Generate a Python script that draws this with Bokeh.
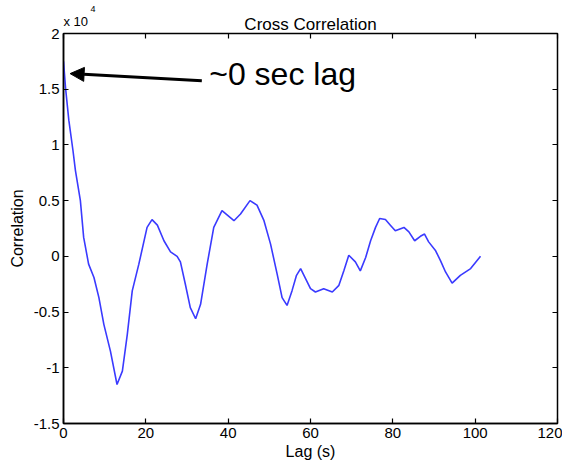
from bokeh.plotting import figure
from bokeh.models import (Range1d, FixedTicker, LinearAxis, Arrow, NormalHead, Label,
                          CustomJSTickFormatter, Title)
from bokeh.embed import file_html
from bokeh.resources import INLINE

# Data (correlation in units of 1e4)
lag_s = [0, 0.5, 1.3, 2.3, 2.9, 4.1, 4.9, 6.1, 7.4, 8.6, 9.8, 11.4, 13.0, 14.3, 15.5,
         16.7, 18.3, 20.3, 21.5, 22.8, 24.4, 26.0, 27.6, 28.4, 29.6, 30.8, 32.1, 33.3,
         34.9, 36.5, 38.5, 41.4, 43.0, 45.3, 47.0, 48.7, 50.3, 51.9, 53.1, 54.3, 55.5,
         56.6, 57.6, 58.8, 60.0, 61.2, 63.2, 65.3, 66.9, 68.1, 69.3, 70.9, 72.1, 73.4,
         74.6, 75.8, 76.8, 78.2, 79.4, 80.6, 82.7, 83.9, 85.3, 86.7, 87.7, 88.7, 90.4,
         91.6, 92.8, 94.4, 96.4, 98.9, 101.3]
correlation_e4 = [1.75, 1.51, 1.22, 0.95, 0.77, 0.50, 0.17, -0.07, -0.19, -0.37, -0.61,
                  -0.85, -1.15, -1.03, -0.70, -0.31, -0.07, 0.26, 0.33, 0.28, 0.14, 0.04,
                  0.0, -0.05, -0.25, -0.46, -0.56, -0.43, -0.07, 0.26, 0.41, 0.32, 0.38,
                  0.50, 0.46, 0.32, 0.11, -0.16, -0.37, -0.44, -0.31, -0.17, -0.11, -0.20,
                  -0.29, -0.32, -0.29, -0.32, -0.26, -0.13, 0.01, -0.05, -0.13, -0.01,
                  0.14, 0.26, 0.34, 0.33, 0.28, 0.23, 0.26, 0.22, 0.14, 0.18, 0.20, 0.13,
                  0.05, -0.04, -0.14, -0.24, -0.17, -0.11, 0.0]

x_ticks = [0, 20, 40, 60, 80, 100, 120]
x_tick_labels = ["0", "20", "40", "60", "80", "100", "120"]
y_ticks = [-1.5, -1, -0.5, 0, 0.5, 1, 1.5, 2]
y_tick_labels = ["-1.5", "-1", "-0.5", "0", "0.5", "1", "1.5", "2"]
y_multiplier_base = "x 10"
y_multiplier_exp = "4"

# annotation (arrow from text to lag ~0)
arrow_tail = (33.6, 1.575)
arrow_tip = (1.6, 1.64)
note_pos = (35.4, 1.476)

FONT = "Liberation Sans"

p = figure(frame_width=494, frame_height=390, output_backend="svg", toolbar_location=None,
           x_range=Range1d(0, 120), y_range=Range1d(-1.5, 2),
           min_border_left=63, min_border_right=5, min_border_top=33,
           min_border_bottom=38, background_fill_color="white",
           border_fill_color="white")

p.outline_line_color = "black"
p.outline_line_width = 1.5
p.outline_line_alpha = 1
p.grid.visible = False

p.line(lag_s, correlation_e4, line_color="#3a3aff", line_width=1.6)

def style_axis(ax, ticks, labels, show_labels=True):
    ax.ticker = FixedTicker(ticks=ticks)
    ax.major_tick_in = 5
    ax.major_tick_out = 0
    ax.minor_tick_line_color = None
    ax.major_tick_line_color = "black"
    ax.major_tick_line_width = 1.2
    ax.axis_line_color = "black"
    ax.axis_line_width = 1.5
    ax.major_label_text_font = FONT
    ax.major_label_text_color = "black"
    if show_labels:
        ax.major_label_overrides = {t: l for t, l in zip(ticks, labels)}
        ax.major_label_text_font_size = "15px"
        ax.major_label_standoff = 4
    else:
        ax.formatter = CustomJSTickFormatter(code="return ''")
        ax.major_label_text_font_size = "1px"
        ax.major_label_standoff = 0
        ax.axis_line_color = None

style_axis(p.xaxis[0], x_ticks, x_tick_labels)
style_axis(p.yaxis[0], y_ticks, y_tick_labels)
p.xaxis[0].axis_label = "Lag (s)"
p.yaxis[0].axis_label = "Correlation"
for ax in (p.xaxis[0], p.yaxis[0]):
    ax.axis_label_text_font = FONT
    ax.axis_label_text_font_size = "16px"
    ax.axis_label_text_font_style = "normal"
    ax.axis_label_text_color = "black"
p.xaxis[0].axis_label_standoff = 2
p.yaxis[0].axis_label_standoff = 5

top_ax = LinearAxis()
style_axis(top_ax, x_ticks, x_tick_labels, show_labels=False)
p.add_layout(top_ax, "above")
right_ax = LinearAxis()
style_axis(right_ax, y_ticks, y_tick_labels, show_labels=False)
p.add_layout(right_ax, "right")

# multiplier "x 10^4" at the top-left corner, then the main title on the same line
exp_base = Title(text=y_multiplier_base, align="left", vertical_align="bottom",
                 text_font=FONT, text_font_size="13px", text_font_style="normal",
                 text_color="black", standoff=9, offset=0)
p.add_layout(exp_base, "above")
exp_sup = Title(text=y_multiplier_exp, align="left", vertical_align="bottom",
                text_font=FONT, text_font_size="9px", text_font_style="normal",
                text_color="black", standoff=-8, offset=27)
p.add_layout(exp_sup, "above")

p.title.text = "Cross Correlation"
p.title.align = "center"
p.title.vertical_align = "bottom"
p.title.text_font = FONT
p.title.text_font_size = "17px"
p.title.text_font_style = "normal"
p.title.text_color = "black"
p.title.standoff = -52

p.add_layout(Arrow(end=NormalHead(size=14, fill_color="black", line_color="black"),
                   x_start=arrow_tail[0], y_start=arrow_tail[1],
                   x_end=arrow_tip[0], y_end=arrow_tip[1],
                   line_color="black", line_width=3))
p.add_layout(Label(x=note_pos[0], y=note_pos[1], text="~0 sec lag",
                   text_font=FONT, text_font_size="32px", text_color="black"))

open("out.html", "w").write(file_html(p, INLINE))
